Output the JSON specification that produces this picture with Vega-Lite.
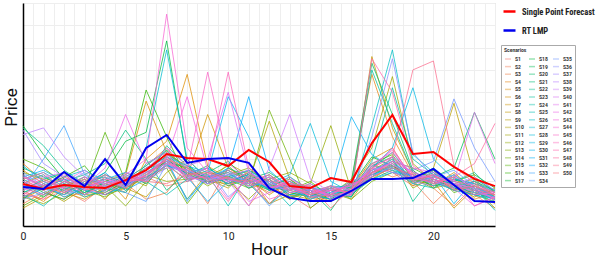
{
"$schema":"https://vega.github.io/schema/vega-lite/v6.json",
"width":472,"height":223,
"autosize":{"type":"none"},
"padding":{"left":23,"top":3,"right":103,"bottom":32},
"config":{"font":"Roboto","view":{"stroke":"#cccccc","strokeWidth":1}},
"datasets":{
"scen":[
{"s":1,"h":0,"p":14},{"s":1,"h":1,"p":12},{"s":1,"h":2,"p":16},{"s":1,"h":3,"p":11},{"s":1,"h":4,"p":18},{"s":1,"h":5,"p":17},{"s":1,"h":6,"p":22},{"s":1,"h":7,"p":18},{"s":1,"h":8,"p":20},{"s":1,"h":9,"p":24},{"s":1,"h":10,"p":19},{"s":1,"h":11,"p":21},{"s":1,"h":12,"p":17},{"s":1,"h":13,"p":14},{"s":1,"h":14,"p":8},{"s":1,"h":15,"p":15},{"s":1,"h":16,"p":19},{"s":1,"h":17,"p":28},{"s":1,"h":18,"p":24},{"s":1,"h":19,"p":18},{"s":1,"h":20,"p":21},{"s":1,"h":21,"p":17},{"s":1,"h":22,"p":14},{"s":1,"h":23,"p":8},
{"s":2,"h":0,"p":22},{"s":2,"h":1,"p":18},{"s":2,"h":2,"p":13},{"s":2,"h":3,"p":15},{"s":2,"h":4,"p":20},{"s":2,"h":5,"p":24},{"s":2,"h":6,"p":19},{"s":2,"h":7,"p":30},{"s":2,"h":8,"p":23},{"s":2,"h":9,"p":10},{"s":2,"h":10,"p":26},{"s":2,"h":11,"p":20},{"s":2,"h":12,"p":15},{"s":2,"h":13,"p":18},{"s":2,"h":14,"p":13},{"s":2,"h":15,"p":11},{"s":2,"h":16,"p":16},{"s":2,"h":17,"p":22},{"s":2,"h":18,"p":31},{"s":2,"h":19,"p":20},{"s":2,"h":20,"p":10},{"s":2,"h":21,"p":19},{"s":2,"h":22,"p":15},{"s":2,"h":23,"p":13},
{"s":3,"h":0,"p":10},{"s":3,"h":1,"p":15},{"s":3,"h":2,"p":12},{"s":3,"h":3,"p":18},{"s":3,"h":4,"p":14},{"s":3,"h":5,"p":19},{"s":3,"h":6,"p":12},{"s":3,"h":7,"p":15},{"s":3,"h":8,"p":27},{"s":3,"h":9,"p":19},{"s":3,"h":10,"p":22},{"s":3,"h":11,"p":9},{"s":3,"h":12,"p":21},{"s":3,"h":13,"p":13},{"s":3,"h":14,"p":16},{"s":3,"h":15,"p":12},{"s":3,"h":16,"p":14},{"s":3,"h":17,"p":26},{"s":3,"h":18,"p":22},{"s":3,"h":19,"p":25},{"s":3,"h":20,"p":17},{"s":3,"h":21,"p":9},{"s":3,"h":22,"p":18},{"s":3,"h":23,"p":11},
{"s":4,"h":0,"p":28},{"s":4,"h":1,"p":20},{"s":4,"h":2,"p":17},{"s":4,"h":3,"p":13},{"s":4,"h":4,"p":16},{"s":4,"h":5,"p":21},{"s":4,"h":6,"p":27},{"s":4,"h":7,"p":35},{"s":4,"h":8,"p":24},{"s":4,"h":9,"p":22},{"s":4,"h":10,"p":18},{"s":4,"h":11,"p":24},{"s":4,"h":12,"p":16},{"s":4,"h":13,"p":19},{"s":4,"h":14,"p":11},{"s":4,"h":15,"p":14},{"s":4,"h":16,"p":20},{"s":4,"h":17,"p":68},{"s":4,"h":18,"p":40},{"s":4,"h":19,"p":23},{"s":4,"h":20,"p":19},{"s":4,"h":21,"p":22},{"s":4,"h":22,"p":12},{"s":4,"h":23,"p":15},
{"s":5,"h":0,"p":16},{"s":5,"h":1,"p":11},{"s":5,"h":2,"p":19},{"s":5,"h":3,"p":14},{"s":5,"h":4,"p":22},{"s":5,"h":5,"p":12},{"s":5,"h":6,"p":30},{"s":5,"h":7,"p":38},{"s":5,"h":8,"p":68},{"s":5,"h":9,"p":27},{"s":5,"h":10,"p":21},{"s":5,"h":11,"p":19},{"s":5,"h":12,"p":23},{"s":5,"h":13,"p":15},{"s":5,"h":14,"p":13},{"s":5,"h":15,"p":17},{"s":5,"h":16,"p":12},{"s":5,"h":17,"p":24},{"s":5,"h":18,"p":29},{"s":5,"h":19,"p":18},{"s":5,"h":20,"p":25},{"s":5,"h":21,"p":16},{"s":5,"h":22,"p":20},{"s":5,"h":23,"p":13},
{"s":6,"h":0,"p":25},{"s":6,"h":1,"p":19},{"s":6,"h":2,"p":14},{"s":6,"h":3,"p":20},{"s":6,"h":4,"p":12},{"s":6,"h":5,"p":23},{"s":6,"h":6,"p":56},{"s":6,"h":7,"p":33},{"s":6,"h":8,"p":26},{"s":6,"h":9,"p":21},{"s":6,"h":10,"p":24},{"s":6,"h":11,"p":17},{"s":6,"h":12,"p":19},{"s":6,"h":13,"p":12},{"s":6,"h":14,"p":18},{"s":6,"h":15,"p":13},{"s":6,"h":16,"p":17},{"s":6,"h":17,"p":30},{"s":6,"h":18,"p":35},{"s":6,"h":19,"p":21},{"s":6,"h":20,"p":18},{"s":6,"h":21,"p":24},{"s":6,"h":22,"p":16},{"s":6,"h":23,"p":10},
{"s":7,"h":0,"p":12},{"s":7,"h":1,"p":17},{"s":7,"h":2,"p":21},{"s":7,"h":3,"p":16},{"s":7,"h":4,"p":19},{"s":7,"h":5,"p":15},{"s":7,"h":6,"p":24},{"s":7,"h":7,"p":29},{"s":7,"h":8,"p":22},{"s":7,"h":9,"p":50},{"s":7,"h":10,"p":26},{"s":7,"h":11,"p":21},{"s":7,"h":12,"p":14},{"s":7,"h":13,"p":20},{"s":7,"h":14,"p":15},{"s":7,"h":15,"p":11},{"s":7,"h":16,"p":18},{"s":7,"h":17,"p":21},{"s":7,"h":18,"p":27},{"s":7,"h":19,"p":22},{"s":7,"h":20,"p":20},{"s":7,"h":21,"p":8},{"s":7,"h":22,"p":17},{"s":7,"h":23,"p":14},
{"s":8,"h":0,"p":19},{"s":8,"h":1,"p":23},{"s":8,"h":2,"p":15},{"s":8,"h":3,"p":12},{"s":8,"h":4,"p":17},{"s":8,"h":5,"p":20},{"s":8,"h":6,"p":21},{"s":8,"h":7,"p":31},{"s":8,"h":8,"p":25},{"s":8,"h":9,"p":19},{"s":8,"h":10,"p":28},{"s":8,"h":11,"p":23},{"s":8,"h":12,"p":10},{"s":8,"h":13,"p":14},{"s":8,"h":14,"p":12},{"s":8,"h":15,"p":16},{"s":8,"h":16,"p":15},{"s":8,"h":17,"p":76},{"s":8,"h":18,"p":44},{"s":8,"h":19,"p":24},{"s":8,"h":20,"p":17},{"s":8,"h":21,"p":19},{"s":8,"h":22,"p":21},{"s":8,"h":23,"p":13},
{"s":9,"h":0,"p":8},{"s":9,"h":1,"p":13},{"s":9,"h":2,"p":18},{"s":9,"h":3,"p":21},{"s":9,"h":4,"p":14},{"s":9,"h":5,"p":17},{"s":9,"h":6,"p":13},{"s":9,"h":7,"p":24},{"s":9,"h":8,"p":30},{"s":9,"h":9,"p":21},{"s":9,"h":10,"p":17},{"s":9,"h":11,"p":25},{"s":9,"h":12,"p":16},{"s":9,"h":13,"p":18},{"s":9,"h":14,"p":14},{"s":9,"h":15,"p":12},{"s":9,"h":16,"p":19},{"s":9,"h":17,"p":23},{"s":9,"h":18,"p":28},{"s":9,"h":19,"p":20},{"s":9,"h":20,"p":26},{"s":9,"h":21,"p":55},{"s":9,"h":22,"p":22},{"s":9,"h":23,"p":15},
{"s":10,"h":0,"p":21},{"s":10,"h":1,"p":16},{"s":10,"h":2,"p":11},{"s":10,"h":3,"p":17},{"s":10,"h":4,"p":23},{"s":10,"h":5,"p":19},{"s":10,"h":6,"p":26},{"s":10,"h":7,"p":28},{"s":10,"h":8,"p":12},{"s":10,"h":9,"p":24},{"s":10,"h":10,"p":22},{"s":10,"h":11,"p":20},{"s":10,"h":12,"p":47},{"s":10,"h":13,"p":21},{"s":10,"h":14,"p":15},{"s":10,"h":15,"p":17},{"s":10,"h":16,"p":13},{"s":10,"h":17,"p":27},{"s":10,"h":18,"p":25},{"s":10,"h":19,"p":19},{"s":10,"h":20,"p":23},{"s":10,"h":21,"p":18},{"s":10,"h":22,"p":13},{"s":10,"h":23,"p":17},
{"s":11,"h":0,"p":17},{"s":11,"h":1,"p":20},{"s":11,"h":2,"p":24},{"s":11,"h":3,"p":14},{"s":11,"h":4,"p":15},{"s":11,"h":5,"p":22},{"s":11,"h":6,"p":18},{"s":11,"h":7,"p":32},{"s":11,"h":8,"p":27},{"s":11,"h":9,"p":20},{"s":11,"h":10,"p":19},{"s":11,"h":11,"p":22},{"s":11,"h":12,"p":17},{"s":11,"h":13,"p":12},{"s":11,"h":14,"p":16},{"s":11,"h":15,"p":14},{"s":11,"h":16,"p":21},{"s":11,"h":17,"p":35},{"s":11,"h":18,"p":67},{"s":11,"h":19,"p":28},{"s":11,"h":20,"p":20},{"s":11,"h":21,"p":16},{"s":11,"h":22,"p":19},{"s":11,"h":23,"p":12},
{"s":12,"h":0,"p":13},{"s":12,"h":1,"p":10},{"s":12,"h":2,"p":15},{"s":12,"h":3,"p":19},{"s":12,"h":4,"p":21},{"s":12,"h":5,"p":16},{"s":12,"h":6,"p":23},{"s":12,"h":7,"p":20},{"s":12,"h":8,"p":21},{"s":12,"h":9,"p":25},{"s":12,"h":10,"p":20},{"s":12,"h":11,"p":12},{"s":12,"h":12,"p":21},{"s":12,"h":13,"p":24},{"s":12,"h":14,"p":19},{"s":12,"h":15,"p":45},{"s":12,"h":16,"p":16},{"s":12,"h":17,"p":25},{"s":12,"h":18,"p":30},{"s":12,"h":19,"p":17},{"s":12,"h":20,"p":22},{"s":12,"h":21,"p":19},{"s":12,"h":22,"p":14},{"s":12,"h":23,"p":16},
{"s":13,"h":0,"p":24},{"s":13,"h":1,"p":21},{"s":13,"h":2,"p":17},{"s":13,"h":3,"p":22},{"s":13,"h":4,"p":18},{"s":13,"h":5,"p":9},{"s":13,"h":6,"p":20},{"s":13,"h":7,"p":30},{"s":13,"h":8,"p":24},{"s":13,"h":9,"p":18},{"s":13,"h":10,"p":23},{"s":13,"h":11,"p":26},{"s":13,"h":12,"p":19},{"s":13,"h":13,"p":15},{"s":13,"h":14,"p":13},{"s":13,"h":15,"p":18},{"s":13,"h":16,"p":14},{"s":13,"h":17,"p":22},{"s":13,"h":18,"p":26},{"s":13,"h":19,"p":23},{"s":13,"h":20,"p":19},{"s":13,"h":21,"p":21},{"s":13,"h":22,"p":17},{"s":13,"h":23,"p":8},
{"s":14,"h":0,"p":9},{"s":14,"h":1,"p":14},{"s":14,"h":2,"p":20},{"s":14,"h":3,"p":16},{"s":14,"h":4,"p":13},{"s":14,"h":5,"p":18},{"s":14,"h":6,"p":22},{"s":14,"h":7,"p":26},{"s":14,"h":8,"p":10},{"s":14,"h":9,"p":22},{"s":14,"h":10,"p":27},{"s":14,"h":11,"p":19},{"s":14,"h":12,"p":52},{"s":14,"h":13,"p":30},{"s":14,"h":14,"p":8},{"s":14,"h":15,"p":15},{"s":14,"h":16,"p":12},{"s":14,"h":17,"p":20},{"s":14,"h":18,"p":24},{"s":14,"h":19,"p":21},{"s":14,"h":20,"p":17},{"s":14,"h":21,"p":23},{"s":14,"h":22,"p":15},{"s":14,"h":23,"p":13},
{"s":15,"h":0,"p":30},{"s":15,"h":1,"p":26},{"s":15,"h":2,"p":19},{"s":15,"h":3,"p":17},{"s":15,"h":4,"p":42},{"s":15,"h":5,"p":20},{"s":15,"h":6,"p":25},{"s":15,"h":7,"p":34},{"s":15,"h":8,"p":23},{"s":15,"h":9,"p":20},{"s":15,"h":10,"p":21},{"s":15,"h":11,"p":17},{"s":15,"h":12,"p":22},{"s":15,"h":13,"p":16},{"s":15,"h":14,"p":20},{"s":15,"h":15,"p":13},{"s":15,"h":16,"p":17},{"s":15,"h":17,"p":28},{"s":15,"h":18,"p":32},{"s":15,"h":19,"p":19},{"s":15,"h":20,"p":24},{"s":15,"h":21,"p":15},{"s":15,"h":22,"p":18},{"s":15,"h":23,"p":14},
{"s":16,"h":0,"p":15},{"s":16,"h":1,"p":18},{"s":16,"h":2,"p":22},{"s":16,"h":3,"p":27},{"s":16,"h":4,"p":16},{"s":16,"h":5,"p":24},{"s":16,"h":6,"p":61},{"s":16,"h":7,"p":40},{"s":16,"h":8,"p":21},{"s":16,"h":9,"p":23},{"s":16,"h":10,"p":19},{"s":16,"h":11,"p":24},{"s":16,"h":12,"p":18},{"s":16,"h":13,"p":21},{"s":16,"h":14,"p":14},{"s":16,"h":15,"p":16},{"s":16,"h":16,"p":15},{"s":16,"h":17,"p":24},{"s":16,"h":18,"p":29},{"s":16,"h":19,"p":26},{"s":16,"h":20,"p":21},{"s":16,"h":21,"p":18},{"s":16,"h":22,"p":20},{"s":16,"h":23,"p":16},
{"s":17,"h":0,"p":45},{"s":17,"h":1,"p":32},{"s":17,"h":2,"p":21},{"s":17,"h":3,"p":15},{"s":17,"h":4,"p":19},{"s":17,"h":5,"p":17},{"s":17,"h":6,"p":23},{"s":17,"h":7,"p":29},{"s":17,"h":8,"p":26},{"s":17,"h":9,"p":21},{"s":17,"h":10,"p":25},{"s":17,"h":11,"p":20},{"s":17,"h":12,"p":16},{"s":17,"h":13,"p":19},{"s":17,"h":14,"p":15},{"s":17,"h":15,"p":12},{"s":17,"h":16,"p":18},{"s":17,"h":17,"p":31},{"s":17,"h":18,"p":27},{"s":17,"h":19,"p":22},{"s":17,"h":20,"p":18},{"s":17,"h":21,"p":20},{"s":17,"h":22,"p":23},{"s":17,"h":23,"p":17},
{"s":18,"h":0,"p":20},{"s":18,"h":1,"p":15},{"s":18,"h":2,"p":12},{"s":18,"h":3,"p":18},{"s":18,"h":4,"p":24},{"s":18,"h":5,"p":38},{"s":18,"h":6,"p":42},{"s":18,"h":7,"p":83},{"s":18,"h":8,"p":28},{"s":18,"h":9,"p":19},{"s":18,"h":10,"p":22},{"s":18,"h":11,"p":25},{"s":18,"h":12,"p":20},{"s":18,"h":13,"p":14},{"s":18,"h":14,"p":17},{"s":18,"h":15,"p":14},{"s":18,"h":16,"p":13},{"s":18,"h":17,"p":26},{"s":18,"h":18,"p":33},{"s":18,"h":19,"p":21},{"s":18,"h":20,"p":25},{"s":18,"h":21,"p":17},{"s":18,"h":22,"p":15},{"s":18,"h":23,"p":12},
{"s":19,"h":0,"p":12},{"s":19,"h":1,"p":19},{"s":19,"h":2,"p":16},{"s":19,"h":3,"p":21},{"s":19,"h":4,"p":15},{"s":19,"h":5,"p":20},{"s":19,"h":6,"p":26},{"s":19,"h":7,"p":31},{"s":19,"h":8,"p":23},{"s":19,"h":9,"p":27},{"s":19,"h":10,"p":18},{"s":19,"h":11,"p":21},{"s":19,"h":12,"p":24},{"s":19,"h":13,"p":18},{"s":19,"h":14,"p":12},{"s":19,"h":15,"p":15},{"s":19,"h":16,"p":19},{"s":19,"h":17,"p":23},{"s":19,"h":18,"p":27},{"s":19,"h":19,"p":20},{"s":19,"h":20,"p":22},{"s":19,"h":21,"p":26},{"s":19,"h":22,"p":51},{"s":19,"h":23,"p":30},
{"s":20,"h":0,"p":26},{"s":20,"h":1,"p":22},{"s":20,"h":2,"p":18},{"s":20,"h":3,"p":14},{"s":20,"h":4,"p":20},{"s":20,"h":5,"p":23},{"s":20,"h":6,"p":19},{"s":20,"h":7,"p":28},{"s":20,"h":8,"p":20},{"s":20,"h":9,"p":24},{"s":20,"h":10,"p":29},{"s":20,"h":11,"p":20},{"s":20,"h":12,"p":17},{"s":20,"h":13,"p":22},{"s":20,"h":14,"p":16},{"s":20,"h":15,"p":7},{"s":20,"h":16,"p":20},{"s":20,"h":17,"p":73},{"s":20,"h":18,"p":50},{"s":20,"h":19,"p":25},{"s":20,"h":20,"p":18},{"s":20,"h":21,"p":22},{"s":20,"h":22,"p":16},{"s":20,"h":23,"p":14},
{"s":21,"h":0,"p":18},{"s":21,"h":1,"p":13},{"s":21,"h":2,"p":20},{"s":21,"h":3,"p":23},{"s":21,"h":4,"p":28},{"s":21,"h":5,"p":43},{"s":21,"h":6,"p":30},{"s":21,"h":7,"p":16},{"s":21,"h":8,"p":24},{"s":21,"h":9,"p":20},{"s":21,"h":10,"p":21},{"s":21,"h":11,"p":19},{"s":21,"h":12,"p":10},{"s":21,"h":13,"p":17},{"s":21,"h":14,"p":13},{"s":21,"h":15,"p":17},{"s":21,"h":16,"p":14},{"s":21,"h":17,"p":21},{"s":21,"h":18,"p":25},{"s":21,"h":19,"p":22},{"s":21,"h":20,"p":20},{"s":21,"h":21,"p":17},{"s":21,"h":22,"p":14},{"s":21,"h":23,"p":11},
{"s":22,"h":0,"p":44},{"s":22,"h":1,"p":36},{"s":22,"h":2,"p":25},{"s":22,"h":3,"p":19},{"s":22,"h":4,"p":17},{"s":22,"h":5,"p":15},{"s":22,"h":6,"p":28},{"s":22,"h":7,"p":33},{"s":22,"h":8,"p":22},{"s":22,"h":9,"p":26},{"s":22,"h":10,"p":20},{"s":22,"h":11,"p":23},{"s":22,"h":12,"p":18},{"s":22,"h":13,"p":16},{"s":22,"h":14,"p":19},{"s":22,"h":15,"p":14},{"s":22,"h":16,"p":16},{"s":22,"h":17,"p":27},{"s":22,"h":18,"p":31},{"s":22,"h":19,"p":11},{"s":22,"h":20,"p":23},{"s":22,"h":21,"p":20},{"s":22,"h":22,"p":24},{"s":22,"h":23,"p":15},
{"s":23,"h":0,"p":16},{"s":23,"h":1,"p":21},{"s":23,"h":2,"p":24},{"s":23,"h":3,"p":18},{"s":23,"h":4,"p":14},{"s":23,"h":5,"p":19},{"s":23,"h":6,"p":21},{"s":23,"h":7,"p":36},{"s":23,"h":8,"p":27},{"s":23,"h":9,"p":22},{"s":23,"h":10,"p":24},{"s":23,"h":11,"p":18},{"s":23,"h":12,"p":21},{"s":23,"h":13,"p":13},{"s":23,"h":14,"p":15},{"s":23,"h":15,"p":18},{"s":23,"h":16,"p":17},{"s":23,"h":17,"p":70},{"s":23,"h":18,"p":46},{"s":23,"h":19,"p":24},{"s":23,"h":20,"p":21},{"s":23,"h":21,"p":16},{"s":23,"h":22,"p":18},{"s":23,"h":23,"p":13},
{"s":24,"h":0,"p":23},{"s":24,"h":1,"p":17},{"s":24,"h":2,"p":14},{"s":24,"h":3,"p":20},{"s":24,"h":4,"p":22},{"s":24,"h":5,"p":18},{"s":24,"h":6,"p":24},{"s":24,"h":7,"p":28},{"s":24,"h":8,"p":23},{"s":24,"h":9,"p":19},{"s":24,"h":10,"p":26},{"s":24,"h":11,"p":22},{"s":24,"h":12,"p":16},{"s":24,"h":13,"p":20},{"s":24,"h":14,"p":14},{"s":24,"h":15,"p":12},{"s":24,"h":16,"p":15},{"s":24,"h":17,"p":29},{"s":24,"h":18,"p":62},{"s":24,"h":19,"p":30},{"s":24,"h":20,"p":23},{"s":24,"h":21,"p":20},{"s":24,"h":22,"p":17},{"s":24,"h":23,"p":7},
{"s":25,"h":0,"p":14},{"s":25,"h":1,"p":9},{"s":25,"h":2,"p":17},{"s":25,"h":3,"p":15},{"s":25,"h":4,"p":19},{"s":25,"h":5,"p":22},{"s":25,"h":6,"p":20},{"s":25,"h":7,"p":14},{"s":25,"h":8,"p":21},{"s":25,"h":9,"p":23},{"s":25,"h":10,"p":9},{"s":25,"h":11,"p":24},{"s":25,"h":12,"p":19},{"s":25,"h":13,"p":9},{"s":25,"h":14,"p":17},{"s":25,"h":15,"p":15},{"s":25,"h":16,"p":20},{"s":25,"h":17,"p":24},{"s":25,"h":18,"p":27},{"s":25,"h":19,"p":19},{"s":25,"h":20,"p":17},{"s":25,"h":21,"p":21},{"s":25,"h":22,"p":19},{"s":25,"h":23,"p":16},
{"s":26,"h":0,"p":21},{"s":26,"h":1,"p":24},{"s":26,"h":2,"p":19},{"s":26,"h":3,"p":13},{"s":26,"h":4,"p":16},{"s":26,"h":5,"p":21},{"s":26,"h":6,"p":27},{"s":26,"h":7,"p":34},{"s":26,"h":8,"p":25},{"s":26,"h":9,"p":20},{"s":26,"h":10,"p":22},{"s":26,"h":11,"p":19},{"s":26,"h":12,"p":23},{"s":26,"h":13,"p":17},{"s":26,"h":14,"p":14},{"s":26,"h":15,"p":16},{"s":26,"h":16,"p":13},{"s":26,"h":17,"p":45},{"s":26,"h":18,"p":79},{"s":26,"h":19,"p":32},{"s":26,"h":20,"p":24},{"s":26,"h":21,"p":18},{"s":26,"h":22,"p":15},{"s":26,"h":23,"p":12},
{"s":27,"h":0,"p":18},{"s":27,"h":1,"p":16},{"s":27,"h":2,"p":22},{"s":27,"h":3,"p":25},{"s":27,"h":4,"p":20},{"s":27,"h":5,"p":17},{"s":27,"h":6,"p":35},{"s":27,"h":7,"p":79},{"s":27,"h":8,"p":30},{"s":27,"h":9,"p":21},{"s":27,"h":10,"p":23},{"s":27,"h":11,"p":20},{"s":27,"h":12,"p":17},{"s":27,"h":13,"p":19},{"s":27,"h":14,"p":16},{"s":27,"h":15,"p":13},{"s":27,"h":16,"p":16},{"s":27,"h":17,"p":22},{"s":27,"h":18,"p":28},{"s":27,"h":19,"p":22},{"s":27,"h":20,"p":19},{"s":27,"h":21,"p":23},{"s":27,"h":22,"p":17},{"s":27,"h":23,"p":14},
{"s":28,"h":0,"p":27},{"s":28,"h":1,"p":20},{"s":28,"h":2,"p":15},{"s":28,"h":3,"p":18},{"s":28,"h":4,"p":23},{"s":28,"h":5,"p":19},{"s":28,"h":6,"p":22},{"s":28,"h":7,"p":27},{"s":28,"h":8,"p":24},{"s":28,"h":9,"p":26},{"s":28,"h":10,"p":21},{"s":28,"h":11,"p":25},{"s":28,"h":12,"p":19},{"s":28,"h":13,"p":23},{"s":28,"h":14,"p":46},{"s":28,"h":15,"p":20},{"s":28,"h":16,"p":15},{"s":28,"h":17,"p":25},{"s":28,"h":18,"p":29},{"s":28,"h":19,"p":21},{"s":28,"h":20,"p":26},{"s":28,"h":21,"p":19},{"s":28,"h":22,"p":16},{"s":28,"h":23,"p":13},
{"s":29,"h":0,"p":15},{"s":29,"h":1,"p":19},{"s":29,"h":2,"p":13},{"s":29,"h":3,"p":17},{"s":29,"h":4,"p":21},{"s":29,"h":5,"p":24},{"s":29,"h":6,"p":20},{"s":29,"h":7,"p":29},{"s":29,"h":8,"p":12},{"s":29,"h":9,"p":22},{"s":29,"h":10,"p":25},{"s":29,"h":11,"p":17},{"s":29,"h":12,"p":21},{"s":29,"h":13,"p":14},{"s":29,"h":14,"p":15},{"s":29,"h":15,"p":17},{"s":29,"h":16,"p":18},{"s":29,"h":17,"p":26},{"s":29,"h":18,"p":35},{"s":29,"h":19,"p":62},{"s":29,"h":20,"p":30},{"s":29,"h":21,"p":21},{"s":29,"h":22,"p":19},{"s":29,"h":23,"p":15},
{"s":30,"h":0,"p":19},{"s":30,"h":1,"p":14},{"s":30,"h":2,"p":18},{"s":30,"h":3,"p":22},{"s":30,"h":4,"p":17},{"s":30,"h":5,"p":20},{"s":30,"h":6,"p":25},{"s":30,"h":7,"p":31},{"s":30,"h":8,"p":27},{"s":30,"h":9,"p":24},{"s":30,"h":10,"p":58},{"s":30,"h":11,"p":40},{"s":30,"h":12,"p":18},{"s":30,"h":13,"p":16},{"s":30,"h":14,"p":13},{"s":30,"h":15,"p":14},{"s":30,"h":16,"p":17},{"s":30,"h":17,"p":23},{"s":30,"h":18,"p":26},{"s":30,"h":19,"p":20},{"s":30,"h":20,"p":23},{"s":30,"h":21,"p":10},{"s":30,"h":22,"p":21},{"s":30,"h":23,"p":16},
{"s":31,"h":0,"p":22},{"s":31,"h":1,"p":25},{"s":31,"h":2,"p":20},{"s":31,"h":3,"p":16},{"s":31,"h":4,"p":14},{"s":31,"h":5,"p":18},{"s":31,"h":6,"p":23},{"s":31,"h":7,"p":30},{"s":31,"h":8,"p":22},{"s":31,"h":9,"p":11},{"s":31,"h":10,"p":20},{"s":31,"h":11,"p":23},{"s":31,"h":12,"p":16},{"s":31,"h":13,"p":18},{"s":31,"h":14,"p":17},{"s":31,"h":15,"p":16},{"s":31,"h":16,"p":49},{"s":31,"h":17,"p":32},{"s":31,"h":18,"p":26},{"s":31,"h":19,"p":22},{"s":31,"h":20,"p":20},{"s":31,"h":21,"p":16},{"s":31,"h":22,"p":14},{"s":31,"h":23,"p":12},
{"s":32,"h":0,"p":13},{"s":32,"h":1,"p":17},{"s":32,"h":2,"p":21},{"s":32,"h":3,"p":19},{"s":32,"h":4,"p":24},{"s":32,"h":5,"p":16},{"s":32,"h":6,"p":21},{"s":32,"h":7,"p":27},{"s":32,"h":8,"p":25},{"s":32,"h":9,"p":21},{"s":32,"h":10,"p":26},{"s":32,"h":11,"p":58},{"s":32,"h":12,"p":25},{"s":32,"h":13,"p":17},{"s":32,"h":14,"p":14},{"s":32,"h":15,"p":12},{"s":32,"h":16,"p":15},{"s":32,"h":17,"p":21},{"s":32,"h":18,"p":24},{"s":32,"h":19,"p":23},{"s":32,"h":20,"p":21},{"s":32,"h":21,"p":18},{"s":32,"h":22,"p":16},{"s":32,"h":23,"p":13},
{"s":33,"h":0,"p":17},{"s":33,"h":1,"p":30},{"s":33,"h":2,"p":45},{"s":33,"h":3,"p":23},{"s":33,"h":4,"p":18},{"s":33,"h":5,"p":21},{"s":33,"h":6,"p":24},{"s":33,"h":7,"p":30},{"s":33,"h":8,"p":11},{"s":33,"h":9,"p":23},{"s":33,"h":10,"p":19},{"s":33,"h":11,"p":22},{"s":33,"h":12,"p":17},{"s":33,"h":13,"p":20},{"s":33,"h":14,"p":16},{"s":33,"h":15,"p":13},{"s":33,"h":16,"p":14},{"s":33,"h":17,"p":24},{"s":33,"h":18,"p":30},{"s":33,"h":19,"p":21},{"s":33,"h":20,"p":24},{"s":33,"h":21,"p":17},{"s":33,"h":22,"p":20},{"s":33,"h":23,"p":15},
{"s":34,"h":0,"p":20},{"s":34,"h":1,"p":23},{"s":34,"h":2,"p":16},{"s":34,"h":3,"p":14},{"s":34,"h":4,"p":18},{"s":34,"h":5,"p":15},{"s":34,"h":6,"p":11},{"s":34,"h":7,"p":28},{"s":34,"h":8,"p":23},{"s":34,"h":9,"p":19},{"s":34,"h":10,"p":23},{"s":34,"h":11,"p":20},{"s":34,"h":12,"p":9},{"s":34,"h":13,"p":18},{"s":34,"h":14,"p":12},{"s":34,"h":15,"p":15},{"s":34,"h":16,"p":16},{"s":34,"h":17,"p":27},{"s":34,"h":18,"p":25},{"s":34,"h":19,"p":19},{"s":34,"h":20,"p":22},{"s":34,"h":21,"p":25},{"s":34,"h":22,"p":18},{"s":34,"h":23,"p":14},
{"s":35,"h":0,"p":24},{"s":35,"h":1,"p":18},{"s":35,"h":2,"p":14},{"s":35,"h":3,"p":17},{"s":35,"h":4,"p":20},{"s":35,"h":5,"p":19},{"s":35,"h":6,"p":26},{"s":35,"h":7,"p":32},{"s":35,"h":8,"p":26},{"s":35,"h":9,"p":22},{"s":35,"h":10,"p":21},{"s":35,"h":11,"p":18},{"s":35,"h":12,"p":20},{"s":35,"h":13,"p":15},{"s":35,"h":14,"p":16},{"s":35,"h":15,"p":14},{"s":35,"h":16,"p":19},{"s":35,"h":17,"p":22},{"s":35,"h":18,"p":27},{"s":35,"h":19,"p":25},{"s":35,"h":20,"p":29},{"s":35,"h":21,"p":57},{"s":35,"h":22,"p":35},{"s":35,"h":23,"p":20},
{"s":36,"h":0,"p":12},{"s":36,"h":1,"p":15},{"s":36,"h":2,"p":19},{"s":36,"h":3,"p":24},{"s":36,"h":4,"p":16},{"s":36,"h":5,"p":22},{"s":36,"h":6,"p":21},{"s":36,"h":7,"p":29},{"s":36,"h":8,"p":24},{"s":36,"h":9,"p":26},{"s":36,"h":10,"p":13},{"s":36,"h":11,"p":21},{"s":36,"h":12,"p":18},{"s":36,"h":13,"p":22},{"s":36,"h":14,"p":15},{"s":36,"h":15,"p":17},{"s":36,"h":16,"p":14},{"s":36,"h":17,"p":40},{"s":36,"h":18,"p":75},{"s":36,"h":19,"p":33},{"s":36,"h":20,"p":22},{"s":36,"h":21,"p":19},{"s":36,"h":22,"p":17},{"s":36,"h":23,"p":14},
{"s":37,"h":0,"p":43},{"s":37,"h":1,"p":28},{"s":37,"h":2,"p":22},{"s":37,"h":3,"p":17},{"s":37,"h":4,"p":20},{"s":37,"h":5,"p":18},{"s":37,"h":6,"p":23},{"s":37,"h":7,"p":31},{"s":37,"h":8,"p":22},{"s":37,"h":9,"p":20},{"s":37,"h":10,"p":24},{"s":37,"h":11,"p":19},{"s":37,"h":12,"p":22},{"s":37,"h":13,"p":16},{"s":37,"h":14,"p":18},{"s":37,"h":15,"p":13},{"s":37,"h":16,"p":15},{"s":37,"h":17,"p":25},{"s":37,"h":18,"p":28},{"s":37,"h":19,"p":20},{"s":37,"h":20,"p":18},{"s":37,"h":21,"p":23},{"s":37,"h":22,"p":16},{"s":37,"h":23,"p":12},
{"s":38,"h":0,"p":41},{"s":38,"h":1,"p":44},{"s":38,"h":2,"p":31},{"s":38,"h":3,"p":22},{"s":38,"h":4,"p":19},{"s":38,"h":5,"p":23},{"s":38,"h":6,"p":20},{"s":38,"h":7,"p":26},{"s":38,"h":8,"p":25},{"s":38,"h":9,"p":21},{"s":38,"h":10,"p":23},{"s":38,"h":11,"p":25},{"s":38,"h":12,"p":17},{"s":38,"h":13,"p":19},{"s":38,"h":14,"p":13},{"s":38,"h":15,"p":16},{"s":38,"h":16,"p":18},{"s":38,"h":17,"p":23},{"s":38,"h":18,"p":31},{"s":38,"h":19,"p":24},{"s":38,"h":20,"p":21},{"s":38,"h":21,"p":18},{"s":38,"h":22,"p":22},{"s":38,"h":23,"p":16},
{"s":39,"h":0,"p":16},{"s":39,"h":1,"p":20},{"s":39,"h":2,"p":17},{"s":39,"h":3,"p":21},{"s":39,"h":4,"p":15},{"s":39,"h":5,"p":24},{"s":39,"h":6,"p":22},{"s":39,"h":7,"p":30},{"s":39,"h":8,"p":21},{"s":39,"h":9,"p":24},{"s":39,"h":10,"p":20},{"s":39,"h":11,"p":9},{"s":39,"h":12,"p":26},{"s":39,"h":13,"p":50},{"s":39,"h":14,"p":21},{"s":39,"h":15,"p":15},{"s":39,"h":16,"p":17},{"s":39,"h":17,"p":26},{"s":39,"h":18,"p":24},{"s":39,"h":19,"p":21},{"s":39,"h":20,"p":23},{"s":39,"h":21,"p":19},{"s":39,"h":22,"p":15},{"s":39,"h":23,"p":13},
{"s":40,"h":0,"p":19},{"s":40,"h":1,"p":22},{"s":40,"h":2,"p":24},{"s":40,"h":3,"p":16},{"s":40,"h":4,"p":22},{"s":40,"h":5,"p":17},{"s":40,"h":6,"p":25},{"s":40,"h":7,"p":35},{"s":40,"h":8,"p":27},{"s":40,"h":9,"p":30},{"s":40,"h":10,"p":60},{"s":40,"h":11,"p":24},{"s":40,"h":12,"p":19},{"s":40,"h":13,"p":17},{"s":40,"h":14,"p":14},{"s":40,"h":15,"p":18},{"s":40,"h":16,"p":16},{"s":40,"h":17,"p":28},{"s":40,"h":18,"p":33},{"s":40,"h":19,"p":22},{"s":40,"h":20,"p":19},{"s":40,"h":21,"p":22},{"s":40,"h":22,"p":18},{"s":40,"h":23,"p":15},
{"s":41,"h":0,"p":23},{"s":41,"h":1,"p":16},{"s":41,"h":2,"p":20},{"s":41,"h":3,"p":25},{"s":41,"h":4,"p":18},{"s":41,"h":5,"p":21},{"s":41,"h":6,"p":20},{"s":41,"h":7,"p":28},{"s":41,"h":8,"p":23},{"s":41,"h":9,"p":19},{"s":41,"h":10,"p":22},{"s":41,"h":11,"p":11},{"s":41,"h":12,"p":15},{"s":41,"h":13,"p":21},{"s":41,"h":14,"p":17},{"s":41,"h":15,"p":14},{"s":41,"h":16,"p":20},{"s":41,"h":17,"p":24},{"s":41,"h":18,"p":29},{"s":41,"h":19,"p":26},{"s":41,"h":20,"p":24},{"s":41,"h":21,"p":20},{"s":41,"h":22,"p":51},{"s":41,"h":23,"p":28},
{"s":42,"h":0,"p":14},{"s":42,"h":1,"p":19},{"s":42,"h":2,"p":15},{"s":42,"h":3,"p":18},{"s":42,"h":4,"p":26},{"s":42,"h":5,"p":50},{"s":42,"h":6,"p":28},{"s":42,"h":7,"p":33},{"s":42,"h":8,"p":20},{"s":42,"h":9,"p":23},{"s":42,"h":10,"p":20},{"s":42,"h":11,"p":24},{"s":42,"h":12,"p":18},{"s":42,"h":13,"p":16},{"s":42,"h":14,"p":19},{"s":42,"h":15,"p":12},{"s":42,"h":16,"p":14},{"s":42,"h":17,"p":26},{"s":42,"h":18,"p":31},{"s":42,"h":19,"p":23},{"s":42,"h":20,"p":20},{"s":42,"h":21,"p":17},{"s":42,"h":22,"p":9},{"s":42,"h":23,"p":13},
{"s":43,"h":0,"p":20},{"s":43,"h":1,"p":17},{"s":43,"h":2,"p":23},{"s":43,"h":3,"p":16},{"s":43,"h":4,"p":21},{"s":43,"h":5,"p":19},{"s":43,"h":6,"p":23},{"s":43,"h":7,"p":30},{"s":43,"h":8,"p":58},{"s":43,"h":9,"p":25},{"s":43,"h":10,"p":21},{"s":43,"h":11,"p":19},{"s":43,"h":12,"p":22},{"s":43,"h":13,"p":18},{"s":43,"h":14,"p":15},{"s":43,"h":15,"p":16},{"s":43,"h":16,"p":18},{"s":43,"h":17,"p":25},{"s":43,"h":18,"p":35},{"s":43,"h":19,"p":21},{"s":43,"h":20,"p":23},{"s":43,"h":21,"p":19},{"s":43,"h":22,"p":17},{"s":43,"h":23,"p":12},
{"s":44,"h":0,"p":18},{"s":44,"h":1,"p":21},{"s":44,"h":2,"p":17},{"s":44,"h":3,"p":20},{"s":44,"h":4,"p":16},{"s":44,"h":5,"p":23},{"s":44,"h":6,"p":30},{"s":44,"h":7,"p":95},{"s":44,"h":8,"p":35},{"s":44,"h":9,"p":24},{"s":44,"h":10,"p":12},{"s":44,"h":11,"p":22},{"s":44,"h":12,"p":17},{"s":44,"h":13,"p":19},{"s":44,"h":14,"p":16},{"s":44,"h":15,"p":14},{"s":44,"h":16,"p":15},{"s":44,"h":17,"p":23},{"s":44,"h":18,"p":29},{"s":44,"h":19,"p":24},{"s":44,"h":20,"p":21},{"s":44,"h":21,"p":18},{"s":44,"h":22,"p":14},{"s":44,"h":23,"p":15},
{"s":45,"h":0,"p":22},{"s":45,"h":1,"p":18},{"s":45,"h":2,"p":21},{"s":45,"h":3,"p":14},{"s":45,"h":4,"p":19},{"s":45,"h":5,"p":20},{"s":45,"h":6,"p":24},{"s":45,"h":7,"p":28},{"s":45,"h":8,"p":25},{"s":45,"h":9,"p":69},{"s":45,"h":10,"p":28},{"s":45,"h":11,"p":21},{"s":45,"h":12,"p":12},{"s":45,"h":13,"p":15},{"s":45,"h":14,"p":17},{"s":45,"h":15,"p":13},{"s":45,"h":16,"p":16},{"s":45,"h":17,"p":27},{"s":45,"h":18,"p":34},{"s":45,"h":19,"p":22},{"s":45,"h":20,"p":22},{"s":45,"h":21,"p":20},{"s":45,"h":22,"p":18},{"s":45,"h":23,"p":14},
{"s":46,"h":0,"p":17},{"s":46,"h":1,"p":14},{"s":46,"h":2,"p":18},{"s":46,"h":3,"p":22},{"s":46,"h":4,"p":17},{"s":46,"h":5,"p":21},{"s":46,"h":6,"p":22},{"s":46,"h":7,"p":31},{"s":46,"h":8,"p":22},{"s":46,"h":9,"p":26},{"s":46,"h":10,"p":69},{"s":46,"h":11,"p":26},{"s":46,"h":12,"p":20},{"s":46,"h":13,"p":18},{"s":46,"h":14,"p":14},{"s":46,"h":15,"p":16},{"s":46,"h":16,"p":15},{"s":46,"h":17,"p":24},{"s":46,"h":18,"p":28},{"s":46,"h":19,"p":21},{"s":46,"h":20,"p":20},{"s":46,"h":21,"p":21},{"s":46,"h":22,"p":9},{"s":46,"h":23,"p":13},
{"s":47,"h":0,"p":21},{"s":47,"h":1,"p":24},{"s":47,"h":2,"p":16},{"s":47,"h":3,"p":19},{"s":47,"h":4,"p":23},{"s":47,"h":5,"p":18},{"s":47,"h":6,"p":26},{"s":47,"h":7,"p":29},{"s":47,"h":8,"p":24},{"s":47,"h":9,"p":21},{"s":47,"h":10,"p":25},{"s":47,"h":11,"p":20},{"s":47,"h":12,"p":23},{"s":47,"h":13,"p":17},{"s":47,"h":14,"p":15},{"s":47,"h":15,"p":18},{"s":47,"h":16,"p":14},{"s":47,"h":17,"p":75},{"s":47,"h":18,"p":60},{"s":47,"h":19,"p":27},{"s":47,"h":20,"p":21},{"s":47,"h":21,"p":18},{"s":47,"h":22,"p":16},{"s":47,"h":23,"p":14},
{"s":48,"h":0,"p":15},{"s":48,"h":1,"p":12},{"s":48,"h":2,"p":20},{"s":48,"h":3,"p":17},{"s":48,"h":4,"p":14},{"s":48,"h":5,"p":20},{"s":48,"h":6,"p":21},{"s":48,"h":7,"p":27},{"s":48,"h":8,"p":21},{"s":48,"h":9,"p":22},{"s":48,"h":10,"p":11},{"s":48,"h":11,"p":23},{"s":48,"h":12,"p":17},{"s":48,"h":13,"p":20},{"s":48,"h":14,"p":13},{"s":48,"h":15,"p":14},{"s":48,"h":16,"p":19},{"s":48,"h":17,"p":22},{"s":48,"h":18,"p":26},{"s":48,"h":19,"p":23},{"s":48,"h":20,"p":19},{"s":48,"h":21,"p":22},{"s":48,"h":22,"p":28},{"s":48,"h":23,"p":46},
{"s":49,"h":0,"p":19},{"s":49,"h":1,"p":16},{"s":49,"h":2,"p":22},{"s":49,"h":3,"p":18},{"s":49,"h":4,"p":20},{"s":49,"h":5,"p":17},{"s":49,"h":6,"p":23},{"s":49,"h":7,"p":30},{"s":49,"h":8,"p":26},{"s":49,"h":9,"p":20},{"s":49,"h":10,"p":22},{"s":49,"h":11,"p":18},{"s":49,"h":12,"p":21},{"s":49,"h":13,"p":16},{"s":49,"h":14,"p":14},{"s":49,"h":15,"p":17},{"s":49,"h":16,"p":15},{"s":49,"h":17,"p":26},{"s":49,"h":18,"p":31},{"s":49,"h":19,"p":70},{"s":49,"h":20,"p":74},{"s":49,"h":21,"p":27},{"s":49,"h":22,"p":19},{"s":49,"h":23,"p":15},
{"s":50,"h":0,"p":13},{"s":50,"h":1,"p":18},{"s":50,"h":2,"p":15},{"s":50,"h":3,"p":21},{"s":50,"h":4,"p":17},{"s":50,"h":5,"p":22},{"s":50,"h":6,"p":20},{"s":50,"h":7,"p":19},{"s":50,"h":8,"p":23},{"s":50,"h":9,"p":24},{"s":50,"h":10,"p":21},{"s":50,"h":11,"p":20},{"s":50,"h":12,"p":10},{"s":50,"h":13,"p":19},{"s":50,"h":14,"p":18},{"s":50,"h":15,"p":8},{"s":50,"h":16,"p":17},{"s":50,"h":17,"p":24},{"s":50,"h":18,"p":27},{"s":50,"h":19,"p":20},{"s":50,"h":20,"p":23},{"s":50,"h":21,"p":16},{"s":50,"h":22,"p":18},{"s":50,"h":23,"p":14}
],
"main":[
{"series":"Single Point Forecast","h":0,"p":18.8},{"series":"Single Point Forecast","h":1,"p":16.6},{"series":"Single Point Forecast","h":2,"p":18.4},{"series":"Single Point Forecast","h":3,"p":17.5},{"series":"Single Point Forecast","h":4,"p":17.0},{"series":"Single Point Forecast","h":5,"p":20.6},{"series":"Single Point Forecast","h":6,"p":25.1},{"series":"Single Point Forecast","h":7,"p":32.3},{"series":"Single Point Forecast","h":8,"p":30.5},{"series":"Single Point Forecast","h":9,"p":30.0},{"series":"Single Point Forecast","h":10,"p":26.9},{"series":"Single Point Forecast","h":11,"p":34.1},{"series":"Single Point Forecast","h":12,"p":28.7},{"series":"Single Point Forecast","h":13,"p":17.9},{"series":"Single Point Forecast","h":14,"p":17.0},{"series":"Single Point Forecast","h":15,"p":21.5},{"series":"Single Point Forecast","h":16,"p":19.7},{"series":"Single Point Forecast","h":17,"p":37.2},{"series":"Single Point Forecast","h":18,"p":49.8},{"series":"Single Point Forecast","h":19,"p":32.3},{"series":"Single Point Forecast","h":20,"p":33.2},{"series":"Single Point Forecast","h":21,"p":26.5},{"series":"Single Point Forecast","h":22,"p":21.1},{"series":"Single Point Forecast","h":23,"p":17.9},
{"series":"RT LMP","h":0,"p":17.5},{"series":"RT LMP","h":1,"p":16.6},{"series":"RT LMP","h":2,"p":24.2},{"series":"RT LMP","h":3,"p":17.9},{"series":"RT LMP","h":4,"p":30.0},{"series":"RT LMP","h":5,"p":18.4},{"series":"RT LMP","h":6,"p":35.0},{"series":"RT LMP","h":7,"p":40.8},{"series":"RT LMP","h":8,"p":28.3},{"series":"RT LMP","h":9,"p":30.0},{"series":"RT LMP","h":10,"p":30.5},{"series":"RT LMP","h":11,"p":28.3},{"series":"RT LMP","h":12,"p":17.0},{"series":"RT LMP","h":13,"p":12.6},{"series":"RT LMP","h":14,"p":11.2},{"series":"RT LMP","h":15,"p":11.2},{"series":"RT LMP","h":16,"p":15.7},{"series":"RT LMP","h":17,"p":21.1},{"series":"RT LMP","h":18,"p":21.1},{"series":"RT LMP","h":19,"p":21.5},{"series":"RT LMP","h":20,"p":25.6},{"series":"RT LMP","h":21,"p":18.4},{"series":"RT LMP","h":22,"p":11.2},{"series":"RT LMP","h":23,"p":10.8}
]
},
"encoding":{
"x":{"field":"h","type":"quantitative","scale":{"domain":[0,23],"nice":false,"zero":false},
"axis":{"title":"Hour","values":[0,0.5,1,1.5,2,2.5,3,3.5,4,4.5,5,5.5,6,6.5,7,7.5,8,8.5,9,9.5,10,10.5,11,11.5,12,12.5,13,13.5,14,14.5,15,15.5,16,16.5,17,17.5,18,18.5,19,19.5,20,20.5,21,21.5,22,22.5,23],
"labelExpr":"datum.value % 5 === 0 ? format(datum.value, 'd') : ''","labelOverlap":false,"labelFlush":false,"ticks":false,"domainColor":"#000000","domainWidth":1.5,"gridColor":"#eeeeee","gridWidth":1,"labelFontSize":10.5,"labelColor":"#222222","labelPadding":5,
"titleFontSize":17,"titleFontWeight":"normal","titleColor":"#111111","titleX":246,"titleY":28,"titleBaseline":"alphabetic","titleAlign":"center"}},
"y":{"field":"p","type":"quantitative","scale":{"domain":[0,100],"nice":false},
"axis":{"title":"Price","values":[0,10,20,30,40,50,60,70,80,90,100],"labels":false,"ticks":false,"domainColor":"#000000","domainWidth":1.5,"gridColor":"#eeeeee","gridWidth":1,
"titleFontSize":17,"titleFontWeight":"normal","titleColor":"#111111","titleX":-7,"titleY":104,"titleBaseline":"alphabetic","titleAlign":"center","titleAngle":-90}}
},
"layer":[
{"data":{"name":"scen"},"mark":{"type":"line","strokeWidth":1,"opacity":0.75},
"encoding":{"color":{"field":"s","type":"nominal",
"scale":{"domain":[1,2,3,4,5,6,7,8,9,10,11,12,13,14,15,16,17,18,19,20,21,22,23,24,25,26,27,28,29,30,31,32,33,34,35,36,37,38,39,40,41,42,43,44,45,46,47,48,49,50],
"range":["#F8766D","#F27B53","#EF7F45","#E68515","#DE8C00","#D68F00","#CD9400","#C49900","#BA9D00","#AEA100","#9FA500","#91A900","#83AC00","#6BB100","#53B400","#2FB600","#00B82A","#00BA3F","#00BC53","#00BD66","#00BF7A","#00C08D","#00C09B","#00BFA9","#00BFB6","#00BFC4","#00BCCF","#00BAD9","#00B7E4","#00B4EE","#00AFF6","#00A9FF","#3AA3FF","#5A9EFF","#7197FF","#8A8FFF","#A287FF","#BB80FF","#CC79FC","#D873F5","#E36EEE","#EE68E8","#F664DF","#F864D3","#FB64C6","#FD64BA","#FF65AD","#FD699D","#FB6D8D","#FA727D"]},
"legend":{"orient":"none","legendX":478,"legendY":42,"title":"Scenarios","titleFontSize":5,"titleFontWeight":"bold","titleColor":"#333333","titlePadding":2,"columns":3,"columnPadding":2,"rowPadding":0.6,"symbolLimit":50,"symbolType":"stroke","symbolSize":36,"symbolStrokeWidth":1.5,"symbolOpacity":0.4,"labelFontSize":5,"labelFontWeight":"bold","labelColor":"#333333","labelOffset":3,"labelExpr":"'S' + datum.label","padding":3,"strokeColor":"#aaaaaa","fillColor":"#ffffff","direction":"vertical"}}}},
{"data":{"name":"main"},"mark":{"type":"line","strokeWidth":2},
"encoding":{"color":{"field":"series","type":"nominal","sort":null,
"scale":{"domain":["Single Point Forecast","RT LMP"],"range":["#ff0000","#0000ee"]},
"legend":{"orient":"none","legendX":479,"legendY":1,"title":null,"symbolType":"stroke","symbolSize":144,"symbolStrokeWidth":2.5,"labelFont":"Liberation Sans Narrow, Roboto Condensed, Roboto","labelFontSize":8.5,"labelFontWeight":"bold","labelColor":"#222222","labelOffset":5,"rowPadding":6,"padding":0,"direction":"vertical","labelLimit":200}}}}
],
"resolve":{"scale":{"color":"independent"}}
}
